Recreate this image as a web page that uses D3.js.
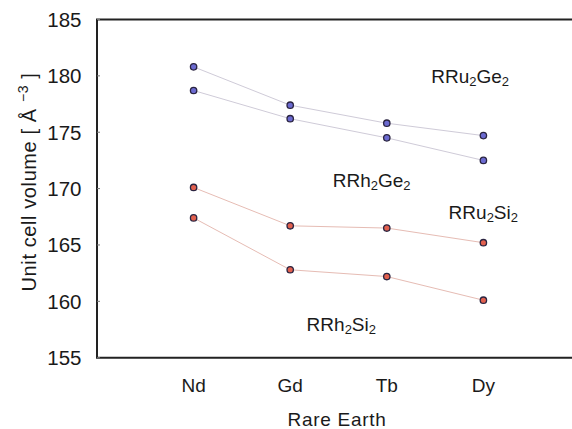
<!DOCTYPE html>
<html><head><meta charset="utf-8">
<script src="https://cdn.jsdelivr.net/npm/d3@7"></script>
<style>body{margin:0;background:#fff}svg{display:block}text{font-family:"Liberation Sans",Arial,sans-serif;fill:#1a1a1a}</style>
</head><body>
<script>
const categories = ["Nd", "Gd", "Tb", "Dy"];
const yTicks = [155, 160, 165, 170, 175, 180, 185];
const seriesNames = ["RRu2Ge2", "RRh2Ge2", "RRu2Si2", "RRh2Si2"];
const ru2ge2 = [180.8, 177.4, 175.8, 174.7];
const rh2ge2 = [178.7, 176.2, 174.5, 172.5];
const ru2si2 = [170.1, 166.7, 166.5, 165.2];
const rh2si2 = [167.4, 162.8, 162.2, 160.1];
const seriesColors = ["blue", "blue", "red", "red"];
// label anchors in data space: [parts, category index position, value]
const labelParts = [
  [["RRu", "2", "Ge", "2"], 3.46, 179.35],
  [["RRh", "2", "Ge", "2"], 2.44, 170.1],
  [["RRu", "2", "Si", "2"], 3.64, 167.3],
  [["RRh", "2", "Si", "2"], 2.17, 157.4]
];

const W = 572, H = 429;
const svg = d3.select("body").append("svg").attr("width", W).attr("height", H);
const x = d3.scaleLinear().domain([0, 5]).range([97, 580]);
const y = d3.scaleLinear().domain([155, 185]).range([357.7, 19.5]);

// frame
const g = svg.append("g");
g.append("path").attr("d", `M${x(5)},${y(185)}H${x(0)}V${y(155)}H${x(5)}`)
  .attr("fill", "none").attr("stroke", "#222").attr("stroke-width", 2);
yTicks.forEach(t => {
  g.append("line").attr("x1", x(0)).attr("x2", x(0) + 3).attr("y1", y(t)).attr("y2", y(t))
    .attr("stroke", "#777").attr("stroke-width", 1);
  g.append("text").attr("x", 81.5).attr("y", y(t)).attr("dy", "0.36em")
    .attr("text-anchor", "end").style("font-size", "20.5px").text(t);
});
categories.forEach((c, i) => {
  g.append("text").attr("x", x(i + 1)).attr("y", 392).attr("text-anchor", "middle")
    .style("font-size", "19px").text(c);
});
g.append("text").attr("x", 337).attr("y", 426).attr("text-anchor", "middle")
  .style("font-size", "19px").style("letter-spacing", "0.7px").text("Rare Earth");

// y title
const yt = svg.append("text").attr("transform", "translate(36,182) rotate(-90)")
  .attr("text-anchor", "middle").style("font-size", "20px").style("letter-spacing", "0.6px");
yt.append("tspan").text("Unit cell volume [ Å ");
yt.append("tspan").attr("dy", -8).style("font-size", "14px").text("−3");
yt.append("tspan").attr("dy", 8).text(" ]");

const allSeries = [ru2ge2, rh2ge2, ru2si2, rh2si2];
const line = d3.line().x((d, i) => x(i + 1)).y(d => y(d));
const lineColor = { blue: "#cfcbd8", red: "#e6bcb4" };
const fillColor = { blue: "#6b6ad0", red: "#e2604e" };
allSeries.forEach((s, k) => {
  svg.append("path").datum(s).attr("d", line).attr("fill", "none")
    .attr("stroke", lineColor[seriesColors[k]]).attr("stroke-width", 1);
});
allSeries.forEach((s, k) => {
  svg.selectAll(null).data(s).enter().append("circle")
    .attr("cx", (d, i) => x(i + 1)).attr("cy", d => y(d)).attr("r", 3.2)
    .attr("fill", fillColor[seriesColors[k]]).attr("stroke", "#2a2440").attr("stroke-width", 1.3);
});

labelParts.forEach(([parts, xi, v]) => {
  const t = svg.append("text").attr("x", x(xi)).attr("y", y(v)).style("font-size", "19px");
  t.append("tspan").text(parts[0]);
  t.append("tspan").attr("dy", 3).style("font-size", "13px").text(parts[1]);
  t.append("tspan").attr("dy", -3).text(parts[2]);
  t.append("tspan").attr("dy", 3).style("font-size", "13px").text(parts[3]);
});
</script>
</body></html>
